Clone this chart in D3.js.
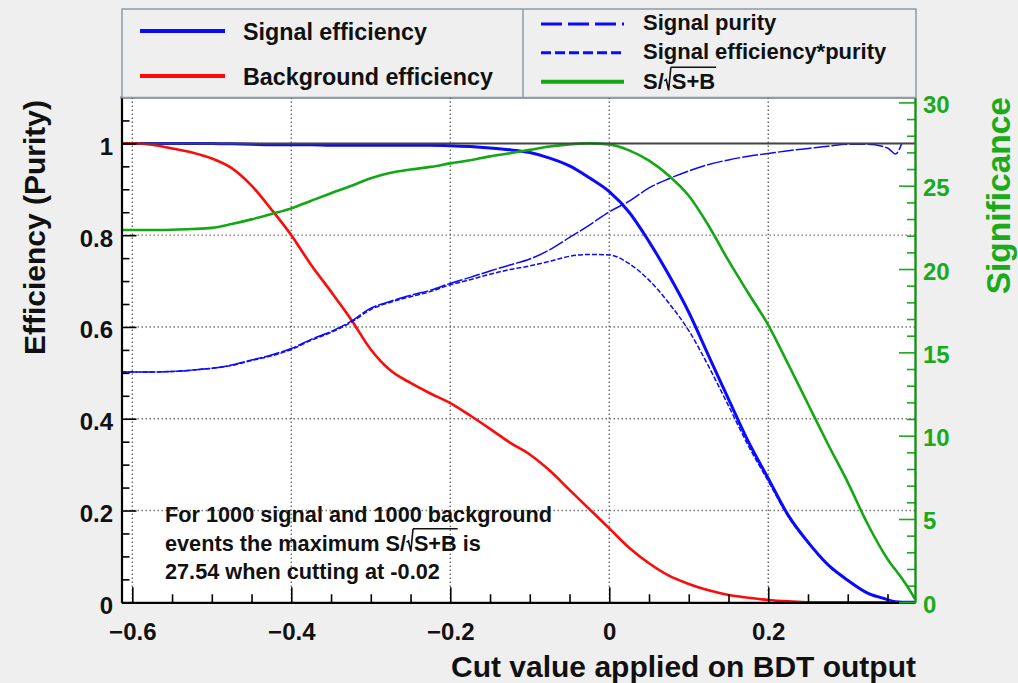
<!DOCTYPE html>
<html>
<head>
<meta charset="utf-8">
<script src="https://cdn.jsdelivr.net/npm/d3@7"></script>
<style>
  html, body { margin: 0; padding: 0; background: #efefef; }
  svg { display: block; }
  text { font-family: "Liberation Sans", Arial, Helvetica, sans-serif; font-weight: bold; }
</style>
</head>
<body>
<svg id="chart" width="1018" height="683"></svg>
<script>
// ---- cut values (BDT output) at which the curves are sampled ----
const cuts = [-0.6136, -0.6, -0.575, -0.55, -0.525, -0.5, -0.475, -0.45, -0.425, -0.4,
  -0.375, -0.35, -0.325, -0.3, -0.275, -0.25, -0.225, -0.2, -0.175, -0.15,
  -0.125, -0.1, -0.075, -0.05, -0.025, 0, 0.025, 0.05, 0.075, 0.1,
  0.125, 0.15, 0.175, 0.2, 0.225, 0.25, 0.275, 0.3, 0.325, 0.35,
  0.355, 0.36, 0.368, 0.375, 0.3846];

// ---- efficiencies / purities (left axis) ----
const sigEff = [1, 1, 1, 1, 1, 1, 0.999, 0.998, 0.997, 0.997,
  0.997, 0.996, 0.996, 0.996, 0.996, 0.996, 0.996, 0.995, 0.993, 0.99,
  0.986, 0.98, 0.968, 0.951, 0.925, 0.895, 0.85, 0.786, 0.713, 0.632,
  0.537, 0.443, 0.35, 0.27, 0.19, 0.131, 0.082, 0.048, 0.02, 0.006,
  0.003, 0.001, 0, 0, 0];

const bkgEff = [1, 1, 0.997, 0.989, 0.98, 0.967, 0.946, 0.908, 0.856, 0.8,
  0.735, 0.677, 0.617, 0.551, 0.505, 0.478, 0.455, 0.434, 0.407, 0.378,
  0.348, 0.322, 0.287, 0.245, 0.203, 0.161, 0.119, 0.085, 0.058, 0.04,
  0.026, 0.016, 0.01, 0.005, 0.002, 0, 0, 0, 0, 0,
  0, 0, 0, 0, 0];

const purity = [0.502, 0.502, 0.502, 0.503, 0.506, 0.51, 0.517, 0.528, 0.539, 0.553,
  0.573, 0.59, 0.612, 0.641, 0.656, 0.669, 0.68, 0.695, 0.708, 0.722,
  0.735, 0.748, 0.768, 0.795, 0.822, 0.851, 0.874, 0.903, 0.923, 0.94,
  0.954, 0.964, 0.972, 0.978, 0.984, 0.989, 0.994, 0.998, 0.998, 0.99,
  0.983, 0.977, 1.0, null, null];

const effPurity = [0.502, 0.502, 0.502, 0.503, 0.506, 0.51, 0.516, 0.527, 0.537, 0.551,
  0.571, 0.588, 0.61, 0.638, 0.654, 0.666, 0.677, 0.692, 0.703, 0.715,
  0.725, 0.733, 0.743, 0.754, 0.758, 0.757, 0.738, 0.702, 0.652, 0.592,
  0.514, 0.428, 0.341, 0.264, 0.187, 0.13, 0.081, 0.048, 0.02, 0.006,
  0.003, 0.001, 0, null, null];

// ---- S/sqrt(S+B) (right axis) ----
const significance = [22.34, 22.34, 22.34, 22.36, 22.4, 22.47, 22.7, 22.98, 23.3, 23.64,
  24.1, 24.55, 24.98, 25.45, 25.78, 25.97, 26.13, 26.34, 26.53, 26.76,
  26.95, 27.15, 27.35, 27.48, 27.54, 27.48, 27.12, 26.5, 25.6, 24.4,
  22.6, 20.5, 18.55, 16.64, 14.3, 11.9, 9.5, 7.2, 4.7, 2.6,
  2.25, 1.95, 1.45, 0.95, 0.2];

// ---- summary numbers ----
const nSignal = 1000;
const nBackground = 1000;
const maxSignificance = 27.54;
const bestCut = -0.02;

// ---- axes ----
const xRange = [-0.6136, 0.3846];
const yMax = 1.1;
const sigMax = yMax * maxSignificance;
const xTickValues = [-0.6, -0.4, -0.2, 0, 0.2];
const xTickLabels = ["\u22120.6", "\u22120.4", "\u22120.2", "0", "0.2"];
const yTickValues = [0, 0.2, 0.4, 0.6, 0.8, 1];
const yTickLabels = ["0", "0.2", "0.4", "0.6", "0.8", "1"];
const sigTickValues = [0, 5, 10, 15, 20, 25, 30];
const sigTickLabels = ["0", "5", "10", "15", "20", "25", "30"];
const xTitle = "Cut value applied on BDT output";
const yTitle = "Efficiency (Purity)";
const sigTitle = "Significance";
const legendLeft = ["Signal efficiency", "Background efficiency"];
const legendRight = ["Signal purity", "Signal efficiency*purity"];

// ---------------------------------------------------------------
const W = 1018, H = 683;
const plot = { left: 121.5, right: 915, top: 97.5, bottom: 602.3 };
const BLUE = "#0a0aff", RED = "#ff0a0a", GREEN = "#13a813";
const GREEN_AXIS = "#1b8f1b", GREEN_TEXT = "#1aaa1a";

const svg = d3.select("#chart");
const x = d3.scaleLinear().domain(xRange).range([plot.left, plot.right]);
const y = d3.scaleLinear().domain([0, yMax]).range([plot.bottom, plot.top]);
const ys = d3.scaleLinear().domain([0, sigMax]).range([plot.bottom, plot.top]);

svg.append("rect").attr("width", W).attr("height", H).attr("fill", "#efefef");
svg.append("rect")
  .attr("x", plot.left).attr("y", plot.top)
  .attr("width", plot.right - plot.left).attr("height", plot.bottom - plot.top)
  .attr("fill", "#ffffff");

svg.append("defs").append("clipPath").attr("id", "plotclip")
  .append("rect")
  .attr("x", plot.left).attr("y", plot.top - 2)
  .attr("width", plot.right - plot.left).attr("height", plot.bottom - plot.top + 4);

// dotted grid on the major ticks
const grid = svg.append("g")
  .attr("stroke", "#6a6a6a").attr("stroke-width", 1.4).attr("stroke-dasharray", "1.4,2.6");
grid.selectAll("line.gv").data(xTickValues).join("line").attr("class", "gv")
  .attr("x1", d => x(d)).attr("x2", d => x(d))
  .attr("y1", plot.top).attr("y2", plot.bottom);
grid.selectAll("line.gh").data(yTickValues.filter(d => d > 0)).join("line").attr("class", "gh")
  .attr("x1", plot.left).attr("x2", plot.right)
  .attr("y1", d => y(d)).attr("y2", d => y(d));

// ---- curves ----
const rows = cuts.map((c, i) => ({
  c, se: sigEff[i], be: bkgEff[i], pu: purity[i], ep: effPurity[i], sg: significance[i]
}));
const mkLine = (key, scale) => d3.line()
  .defined(d => d[key] !== null)
  .x(d => x(d.c)).y(d => scale(d[key]))
  .curve(d3.curveMonotoneX);

const curves = svg.append("g").attr("clip-path", "url(#plotclip)").attr("fill", "none");
curves.append("path").datum(rows).attr("d", mkLine("se", y))
  .attr("stroke", BLUE).attr("stroke-width", 3);
curves.append("path").datum(rows).attr("d", mkLine("be", y))
  .attr("stroke", RED).attr("stroke-width", 2.6);
curves.append("path").datum(rows).attr("d", mkLine("pu", y))
  .attr("stroke", BLUE).attr("stroke-width", 1.5).attr("stroke-dasharray", "16,2");
curves.append("path").datum(rows).attr("d", mkLine("ep", y))
  .attr("stroke", BLUE).attr("stroke-width", 1.5).attr("stroke-dasharray", "5,2");
curves.append("path").datum(rows).attr("d", mkLine("sg", ys))
  .attr("stroke", GREEN).attr("stroke-width", 2.6);

// reference line at efficiency = 1
svg.append("line")
  .attr("x1", plot.left).attr("x2", plot.right)
  .attr("y1", y(1)).attr("y2", y(1))
  .attr("stroke", "#454545").attr("stroke-width", 2);

// ---- axes ----
function styleAxis(g, color, width) {
  g.select(".domain").attr("stroke", color).attr("stroke-width", width);
  g.selectAll(".tick line").attr("stroke", color).attr("stroke-width", 1.6);
}
const xMinor = d3.range(-12, 8).map(i => +(i * 0.05).toFixed(2))
  .filter(v => v >= xRange[0] && v <= xRange[1] && !xTickValues.includes(v));
const yMinor = d3.range(0, 22).map(i => +(i * 0.05).toFixed(2))
  .filter(v => !yTickValues.includes(v) && v <= yMax);
const sMinor = d3.range(0, 31).filter(v => !sigTickValues.includes(v));

// bottom
const gxMinor = svg.append("g").attr("transform", `translate(0,${plot.bottom})`)
  .call(d3.axisBottom(x).tickValues(xMinor).tickSize(-8).tickSizeOuter(0).tickFormat(""));
gxMinor.select(".domain").remove();
gxMinor.selectAll(".tick line").attr("stroke", "#000").attr("stroke-width", 1.6);
const gx = svg.append("g").attr("transform", `translate(0,${plot.bottom})`)
  .call(d3.axisBottom(x).tickValues(xTickValues).tickSize(-15).tickSizeOuter(0)
    .tickFormat((d, i) => xTickLabels[i]));
styleAxis(gx, "#000", 2.2);
gx.selectAll(".tick text").attr("y", 38).attr("dy", 0)
  .attr("font-size", 24).attr("fill", "#111");

// left
const gyMinor = svg.append("g").attr("transform", `translate(${plot.left},0)`)
  .call(d3.axisLeft(y).tickValues(yMinor).tickSize(-8).tickSizeOuter(0).tickFormat(""));
gyMinor.select(".domain").remove();
gyMinor.selectAll(".tick line").attr("stroke", "#000").attr("stroke-width", 1.6);
const gy = svg.append("g").attr("transform", `translate(${plot.left},0)`)
  .call(d3.axisLeft(y).tickValues(yTickValues).tickSize(-15).tickSizeOuter(0)
    .tickFormat((d, i) => yTickLabels[i]));
styleAxis(gy, "#000", 2.2);
gy.selectAll(".tick text").attr("x", -8.5).attr("dy", 0).attr("y", 11)
  .attr("font-size", 24).attr("fill", "#111");

// right (significance)
const gsMinor = svg.append("g").attr("transform", `translate(${plot.right},0)`)
  .call(d3.axisRight(ys).tickValues(sMinor).tickSize(-8).tickSizeOuter(0).tickFormat(""));
gsMinor.select(".domain").remove();
gsMinor.selectAll(".tick line").attr("stroke", GREEN_TEXT).attr("stroke-width", 1.6);
const gs = svg.append("g").attr("transform", `translate(${plot.right},0)`)
  .call(d3.axisRight(ys).tickValues(sigTickValues).tickSize(-16).tickSizeOuter(0)
    .tickFormat((d, i) => sigTickLabels[i]));
gs.select(".domain").attr("stroke", GREEN_AXIS).attr("stroke-width", 2.4);
gs.selectAll(".tick line").attr("stroke", GREEN_TEXT).attr("stroke-width", 1.6);
gs.selectAll(".tick text").attr("x", 8).attr("dy", 0).attr("y", 10)
  .attr("font-size", 24).attr("fill", GREEN_TEXT);

// frame top
svg.append("line")
  .attr("x1", plot.left - 1).attr("x2", plot.right)
  .attr("y1", plot.top).attr("y2", plot.top)
  .attr("stroke", "#3a3f45").attr("stroke-width", 2);

// ---- axis titles ----
svg.append("text")
  .attr("x", 916).attr("y", 677).attr("text-anchor", "end")
  .attr("font-size", 30).attr("fill", "#111").text(xTitle);
svg.append("text")
  .attr("transform", "translate(45,100) rotate(-90)").attr("text-anchor", "end")
  .attr("font-size", 30).attr("fill", "#111").text(yTitle);
svg.append("text")
  .attr("transform", "translate(1010,97) rotate(-90)").attr("text-anchor", "end")
  .attr("font-size", 33.5).attr("fill", GREEN_TEXT).text(sigTitle);

// ---- text with a square-root sign: pre + sqrt(rad) + post ----
function sqrtText(g, x0, yb, size, pre, rad, post) {
  const t1 = g.append("text").attr("x", x0).attr("y", yb)
    .attr("font-size", size).attr("fill", "#111").text(pre);
  const w1 = t1.node().getComputedTextLength();
  const rx = x0 + w1 + size * 0.02;
  const top = yb - size * 1.0;
  g.append("path")
    .attr("d", `M${rx},${yb - size * 0.38} L${rx + size * 0.09},${yb - size * 0.44} ` +
               `L${rx + size * 0.2},${yb + 1} L${rx + size * 0.3},${top}`)
    .attr("fill", "none").attr("stroke", "#111").attr("stroke-width", 1.6);
  const rstart = rx + size * 0.34;
  const t2 = g.append("text").attr("x", rstart).attr("y", yb)
    .attr("font-size", size).attr("fill", "#111").text(rad);
  const w2 = t2.node().getComputedTextLength();
  g.append("line")
    .attr("x1", rx + size * 0.3).attr("x2", rstart + w2 + 1)
    .attr("y1", top).attr("y2", top)
    .attr("stroke", "#111").attr("stroke-width", 1.6);
  if (post) {
    g.append("text").attr("x", rstart + w2).attr("y", yb)
      .attr("font-size", size).attr("fill", "#111").attr("xml:space", "preserve")
      .style("white-space", "pre").text(post);
  }
}

// ---- legend ----
const leg = svg.append("g");
leg.append("rect")
  .attr("x", 122).attr("y", 9).attr("width", 794).attr("height", plot.top - 9)
  .attr("fill", "#efefef").attr("stroke", "#8f9ba7").attr("stroke-width", 1.5);
leg.append("line").attr("x1", 523).attr("x2", 523).attr("y1", 9).attr("y2", plot.top)
  .attr("stroke", "#8f9ba7").attr("stroke-width", 1.5);

const leftEntries = [
  { label: legendLeft[0], color: BLUE, ly: 31, ty: 40 },
  { label: legendLeft[1], color: RED, ly: 76, ty: 84.5 }
];
leftEntries.forEach(e => {
  leg.append("line").attr("x1", 140).attr("x2", 225).attr("y1", e.ly).attr("y2", e.ly)
    .attr("stroke", e.color).attr("stroke-width", 4);
  leg.append("text").attr("x", 243).attr("y", e.ty)
    .attr("font-size", 23.3).attr("fill", "#111").text(e.label);
});

const rightEntries = [
  { label: legendRight[0], color: BLUE, dash: "21,6,21,6,21,6,2", ly: 24, ty: 30 },
  { label: legendRight[1], color: BLUE, dash: "10,4", ly: 52.7, ty: 58.5 }
];
rightEntries.forEach(e => {
  leg.append("line").attr("x1", 541).attr("x2", 624).attr("y1", e.ly).attr("y2", e.ly)
    .attr("stroke", e.color).attr("stroke-width", 3).attr("stroke-dasharray", e.dash);
  leg.append("text").attr("x", 643).attr("y", e.ty)
    .attr("font-size", 22).attr("fill", "#111").text(e.label);
});
leg.append("line").attr("x1", 541).attr("x2", 624).attr("y1", 81.7).attr("y2", 81.7)
  .attr("stroke", GREEN).attr("stroke-width", 4);
sqrtText(leg, 643, 89.3, 22, "S/", "S+B", "");

// ---- annotation ----
const note = svg.append("g");
note.append("text").attr("x", 165).attr("y", 522)
  .attr("font-size", 21.7).attr("fill", "#111")
  .text(`For ${nSignal} signal and ${nBackground} background`);
const evPart = note.append("text").attr("x", 165).attr("y", 550.5)
  .attr("font-size", 21.7).attr("fill", "#111").attr("xml:space", "preserve")
  .style("white-space", "pre").text("events the maximum ");
const evW = evPart.node().getComputedTextLength();
sqrtText(note, 165 + evW, 550.5, 21.7, "S/", "S+B", " is");
note.append("text").attr("x", 165).attr("y", 579)
  .attr("font-size", 21.7).attr("fill", "#111")
  .text(`${maxSignificance.toFixed(2)} when cutting at ${bestCut.toFixed(2)}`);
</script>
</body>
</html>
